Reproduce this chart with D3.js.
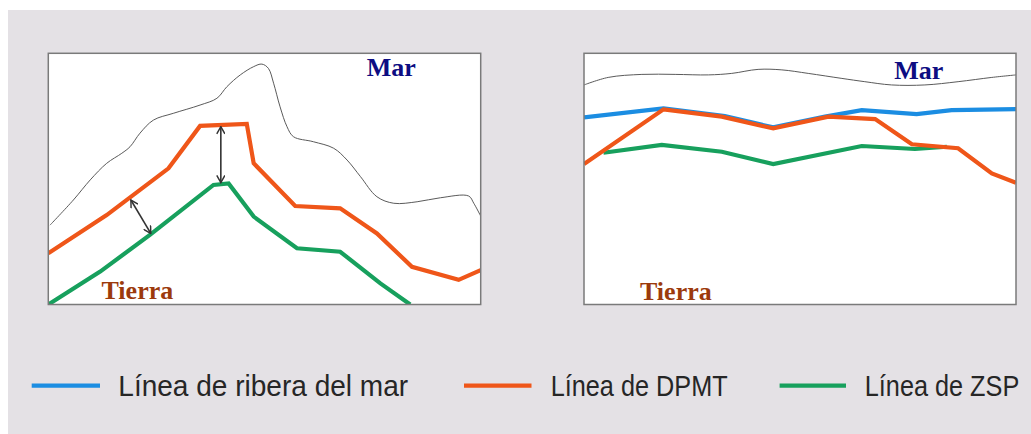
<!DOCTYPE html>
<html>
<head>
<meta charset="utf-8">
<script src="https://cdn.jsdelivr.net/npm/d3@7"></script>
<style>
  html, body { margin: 0; padding: 0; background: #ffffff; }
  svg { display: block; }
</style>
</head>
<body>
<svg id="chart" width="1031" height="434"></svg>
<script>
// ---------- DATA (x: position along coast 0-100, y: inland->sea 0-100) ----------
// Left panel
const leftCoast = [[0.4,31.6],[5.8,41.6],[9.7,49.6],[13.5,56.2],[17.0,60.2],[18.9,62.8],[21.2,68.2],[24.3,73.4],[28.9,76.1],[35.1,79.4],[39.0,82.1],[41.3,86.7],[44.4,91.4],[47.5,94.7],[49.4,95.7],[50.9,94.0],[52.1,88.1],[53.6,78.7],[55.2,70.8],[56.7,66.8],[61.3,64.8],[66.0,62.2],[69.1,57.5],[72.2,50.9],[76.0,42.9],[79.9,40.3],[85.3,40.9],[90.7,42.5],[97.2,43.2],[98.4,40.3],[100,35.2]];
const leftDPMT = [[0,20.4],[13.5,35.6],[27.8,54.2],[35.1,71.1],[45.9,71.9],[47.5,56.2],[57.1,39.2],[67.5,38.3],[76.0,28.3],[84.1,15.0],[94.9,9.8],[100,13.7]];
const leftZSP = [[0,0],[12.0,13.1],[23.5,27.7],[38.2,47.6],[41.7,48.2],[47.5,35.0],[57.5,22.4],[67.5,21.0],[76.8,8.4],[83.7,0]];
const leftArrows = [[[19.1,41.6],[23.7,28.3]], [[39.9,70.8],[39.9,48.5]]];

// Right panel
const rightCoast = [[0,87.4],[5.6,90.4],[13.4,91.6],[21.1,91.6],[28.8,91.4],[34.2,92.0],[40.3,93.6],[45.8,93.4],[51.9,92.0],[59.7,90.0],[65.0,88.7],[71.2,87.4],[78.9,87.4],[86.6,88.7],[94.4,90.4],[100,91.4]];
const rightRibera = [[0,74.5],[18.4,78.1],[32.6,75.0],[43.8,70.5],[55.8,74.8],[64.3,77.4],[77.0,75.8],[85.1,77.4],[100,77.8]];
const rightDPMT = [[0,55.9],[18.4,77.7],[31.9,74.8],[43.8,70.1],[56.6,74.8],[67.4,73.8],[75.9,63.8],[86.6,62.2],[94.4,52.2],[100,48.5]];
const rightZSP = [[4.5,60.4],[18.0,63.5],[31.9,60.8],[43.8,55.9],[64.3,63.1],[76.6,61.9],[84.0,62.8]];

// Labels
const seaLabel = "Mar";
const landLabel = "Tierra";
const legendLabels = ["Línea de ribera del mar", "Línea de DPMT", "Línea de ZSP"];

// ---------- STYLE ----------
const colors = { ribera: "#1b8de2", dpmt: "#ef5619", zsp: "#17a05d", coast: "#5a5a5a" };
const svg = d3.select("#chart");

// background
svg.append("rect").attr("width", 1031).attr("height", 434).attr("fill", "#ffffff");
svg.append("rect").attr("x", 8).attr("y", 10).attr("width", 1023).attr("height", 424).attr("fill", "#e4e1e5");

const defs = svg.append("defs");
defs.append("marker")
  .attr("id", "arr").attr("viewBox", "0 0 10 10")
  .attr("refX", 9).attr("refY", 5)
  .attr("markerWidth", 9).attr("markerHeight", 9)
  .attr("markerUnits", "userSpaceOnUse")
  .attr("orient", "auto-start-reverse")
  .append("path").attr("d", "M1,0.5 L9,5 L1,9.5")
  .attr("fill", "none").attr("stroke", "#333").attr("stroke-width", 1.6);

function panel(id, x0, x1, coast, series, arrows, seaPos, landPos) {
  const y0 = 53.3, y1 = 304.5;
  const xS = d3.scaleLinear().domain([0, 100]).range([x0, x1]);
  const yS = d3.scaleLinear().domain([0, 100]).range([y1, y0]);
  defs.append("clipPath").attr("id", "clip-" + id)
    .append("rect").attr("x", x0).attr("y", y0).attr("width", x1 - x0).attr("height", y1 - y0);
  svg.append("rect").attr("x", x0).attr("y", y0).attr("width", x1 - x0).attr("height", y1 - y0)
    .attr("fill", "#ffffff");
  const g = svg.append("g").attr("clip-path", `url(#clip-${id})`);

  g.append("path").datum(coast)
    .attr("d", d3.line().x(d => xS(d[0])).y(d => yS(d[1])).curve(d3.curveCatmullRom.alpha(0.5)))
    .attr("fill", "none").attr("stroke", colors.coast).attr("stroke-width", 1);

  const line = d3.line().x(d => xS(d[0])).y(d => yS(d[1]));
  series.forEach(s => {
    g.append("path").datum(s.data).attr("d", line)
      .attr("fill", "none").attr("stroke", s.color).attr("stroke-width", 4.2)
      .attr("stroke-linejoin", "miter").attr("stroke-linecap", "butt");
  });

  arrows.forEach(a => {
    g.append("line")
      .attr("x1", xS(a[0][0])).attr("y1", yS(a[0][1]))
      .attr("x2", xS(a[1][0])).attr("y2", yS(a[1][1]))
      .attr("stroke", "#333").attr("stroke-width", 1.6)
      .attr("marker-start", "url(#arr)").attr("marker-end", "url(#arr)");
  });

  svg.append("text").attr("x", seaPos[0]).attr("y", seaPos[1])
    .attr("font-family", "'Liberation Serif', 'Times New Roman', serif")
    .attr("font-weight", "bold").attr("font-size", 26).attr("fill", "#0d0d82")
    .text(seaLabel);
  svg.append("text").attr("x", landPos[0]).attr("y", landPos[1])
    .attr("font-family", "'Liberation Serif', 'Times New Roman', serif")
    .attr("font-weight", "bold").attr("font-size", 26).attr("fill", "#9c3a0c")
    .text(landLabel);

  svg.append("rect").attr("x", x0).attr("y", y0).attr("width", x1 - x0).attr("height", y1 - y0)
    .attr("fill", "none").attr("stroke", "#7a7a7a").attr("stroke-width", 1.5);
}

panel("left", 48.3, 480.7, leftCoast,
  [{ data: leftZSP, color: colors.zsp }, { data: leftDPMT, color: colors.dpmt }],
  leftArrows, [366.7, 76], [101.5, 299.3]);

panel("right", 584, 1016, rightCoast,
  [{ data: rightRibera, color: colors.ribera }, { data: rightZSP, color: colors.zsp }, { data: rightDPMT, color: colors.dpmt }],
  [], [894.3, 79.3], [640, 300]);

// ---------- LEGEND ----------
const legendItems = [
  { label: legendLabels[0], color: colors.ribera, lx: 31.7, lw: 68.3, tx: 118.3, tw: 290 },
  { label: legendLabels[1], color: colors.dpmt, lx: 464, lw: 67.5, tx: 550.7, tw: 177 },
  { label: legendLabels[2], color: colors.zsp, lx: 779.6, lw: 66.4, tx: 864.8, tw: 154.5 }
];
const lg = svg.append("g");
legendItems.forEach(it => {
  lg.append("line").attr("x1", it.lx).attr("x2", it.lx + it.lw).attr("y1", 385.7).attr("y2", 385.7)
    .attr("stroke", it.color).attr("stroke-width", 4.2);
  const t = lg.append("text").attr("x", 0).attr("y", 0)
    .attr("font-family", "'Liberation Sans', 'DejaVu Sans', sans-serif")
    .attr("font-size", 29.5).attr("fill", "#262626")
    .text(it.label);
  const natural = t.node().getComputedTextLength();
  const sx = it.tw / natural;
  t.attr("transform", `translate(${it.tx},396.3) scale(${sx},1)`);
});
</script>
</body>
</html>
